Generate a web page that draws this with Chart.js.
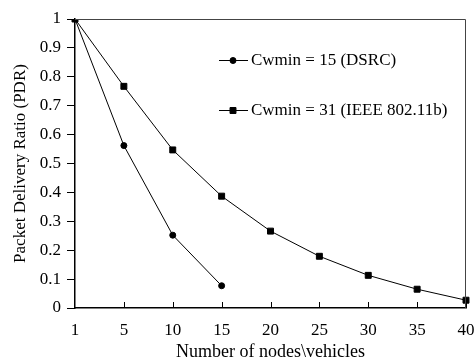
<!DOCTYPE html>
<html>
<head>
<meta charset="utf-8">
<script src="https://cdn.jsdelivr.net/npm/chart.js@4.4.0/dist/chart.umd.min.js"></script>
<style>
  html, body { margin: 0; padding: 0; background: #fff; }
  #wrap { width: 474px; height: 360px; }
</style>
</head>
<body>
<div id="wrap"><canvas id="pdr"></canvas></div>
<script>
// number of nodes\vehicles (equally spaced categories)
var nodes = ["1", "5", "10", "15", "20", "25", "30", "35", "40"];
var pdr_dsrc = [1, 0.562, 0.252, 0.077, null, null, null, null, null];
var pdr_80211b = [1, 0.767, 0.547, 0.387, 0.266, 0.179, 0.113, 0.065, 0.027];
var yTicks = [0, 0.1, 0.2, 0.3, 0.4, 0.5, 0.6, 0.7, 0.8, 0.9, 1];

var serif = '"Liberation Serif", "Times New Roman", serif';

// box on top/right + inward x tick marks
var framePlugin = {
  id: 'frame',
  afterDatasetsDraw: function(chart) {
    var ctx = chart.ctx, a = chart.chartArea, xs = chart.scales.x;
    ctx.save();
    ctx.strokeStyle = '#444';
    ctx.lineWidth = 1;
    ctx.beginPath();
    ctx.moveTo(a.left, a.top + 0.5);
    ctx.lineTo(a.right - 0.5, a.top + 0.5);
    ctx.lineTo(a.right - 0.5, a.bottom);
    ctx.stroke();
    ctx.strokeStyle = '#000';
    ctx.beginPath();
    for (var i = 1; i < nodes.length; i++) {
      var px = Math.round(xs.getPixelForTick(i)) + 0.5;
      ctx.moveTo(px, a.bottom);
      ctx.lineTo(px, a.bottom - 6);
    }
    ctx.stroke();
    ctx.restore();
  }
};

// legend inside the plot, line with marker in front of the text
var legendPlugin = {
  id: 'inlegend',
  afterDraw: function(chart) {
    var ctx = chart.ctx;
    var rows = [60, 110];
    ctx.save();
    chart.data.datasets.forEach(function(ds, i) {
      var y = rows[i];
      ctx.strokeStyle = '#000';
      ctx.lineWidth = 1;
      ctx.beginPath();
      ctx.moveTo(219, y + 0.5);
      ctx.lineTo(248, y + 0.5);
      ctx.stroke();
      Chart.helpers.drawPoint(ctx, {
        pointStyle: ds.pointStyle, radius: ds.pointRadius, borderWidth: 1
      }, 233, y + 0.5);
      ctx.fillStyle = '#000';
      ctx.font = '17px ' + serif;
      ctx.textBaseline = 'middle';
      ctx.fillText(ds.label, 251, y + 1);
    });
    ctx.restore();
  }
};

new Chart("pdr", {
  type: "line",
  data: {
    labels: nodes,
    datasets: [{
      label: "Cwmin = 15 (DSRC)",
      data: pdr_dsrc,
      borderColor: "#000",
      backgroundColor: "#000",
      borderWidth: 1,
      pointStyle: "circle",
      pointRadius: 3,
      pointBorderWidth: 1,
      spanGaps: false
    }, {
      label: "Cwmin = 31 (IEEE 802.11b)",
      data: pdr_80211b,
      borderColor: "#000",
      backgroundColor: "#000",
      borderWidth: 1,
      pointStyle: "rect",
      pointRadius: 4.2,
      pointBorderWidth: 1
    }]
  },
  options: {
    responsive: true,
    maintainAspectRatio: false,
    animation: false,
    layout: { padding: { top: 19, right: 8, left: 0, bottom: 0 } },
    plugins: {
      legend: { display: false },
      tooltip: { enabled: false }
    },
    scales: {
      x: {
        type: "category",
        offset: false,
        grid: { display: false, drawTicks: false },
        border: { color: "#000", width: 1.5 },
        ticks: { color: "#000", font: { family: serif, size: 17 }, padding: 12, maxRotation: 0, autoSkip: false },
        title: { display: true, text: "Number of nodes\\vehicles", color: "#000",
                 font: { family: serif, size: 18 }, padding: { top: 0, bottom: -3 } },
        afterFit: function(s) { s.height = 52; s.paddingLeft = 0; s.paddingRight = 0; }
      },
      y: {
        min: 0,
        max: 1,
        afterBuildTicks: function(s) { s.ticks = yTicks.map(function(v) { return { value: v }; }); },
        grid: { drawOnChartArea: false, drawTicks: true, tickLength: 8, color: "#000" },
        border: { color: "#000", width: 1.5 },
        ticks: { color: "#000", font: { family: serif, size: 17 }, padding: 6,
                 callback: function(v) { return String(v); } },
        title: { display: true, text: "Packet Delivery Ratio (PDR)", color: "#000",
                 font: { family: serif, size: 17 }, padding: { top: 10, bottom: 0 } },
        afterFit: function(s) { s.width = 75; s.paddingTop = 0; s.paddingBottom = 0; }
      }
    }
  },
  plugins: [framePlugin, legendPlugin]
});
</script>
</body>
</html>
